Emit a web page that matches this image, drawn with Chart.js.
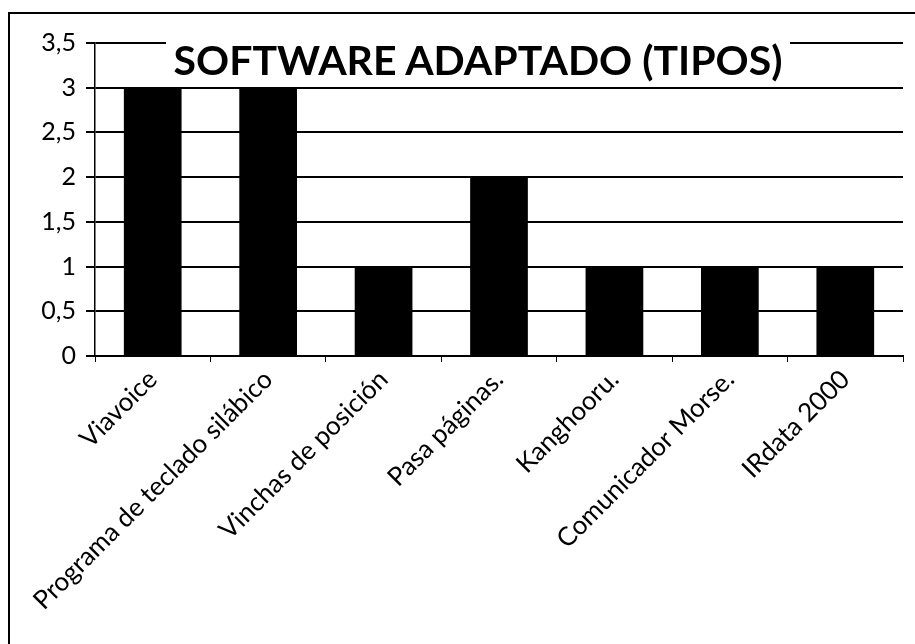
<!DOCTYPE html>
<html>
<head>
<meta charset="utf-8">
<script src="https://cdn.jsdelivr.net/npm/chart.js"></script>
<style>
  html, body { margin: 0; padding: 0; background: #fff; }
  #wrap { position: relative; width: 915px; height: 644px; overflow: hidden; }
  #frame { position: absolute; left: 8px; top: 12px; width: 915px; height: 640px;
           border-top: 2px solid #000; border-left: 2px solid #000; pointer-events: none; }
  #title { position: absolute; left: 166px; top: 37px; width: 624px; height: 46px;
           background: #fff; text-align: center; font-family: Lato, sans-serif;
           font-weight: bold; font-size: 41px; line-height: 46px; color: #000; white-space: nowrap; }
</style>
</head>
<body>
<div id="wrap">
  <canvas id="chart" width="915" height="644"></canvas>
  <div id="frame"></div>
  <div id="title">SOFTWARE ADAPTADO (TIPOS)</div>
</div>
<script>
let categories = ["Viavoice", "Programa de teclado silábico", "Vinchas de posición", "Pasa páginas.",
    "Kanghooru.", "Comunicador Morse.", "IRdata 2000"]
let counts = [3, 3, 1, 2, 1, 1, 1]
let yTicks = [0, 0.5, 1, 1.5, 2, 2.5, 3, 3.5]

const ctx = document.getElementById("chart").getContext("2d")
new Chart(ctx, {
    type: "bar",
    data: {
        labels: categories,
        datasets: [{
            data: counts,
            backgroundColor: "#000",
            borderWidth: 0,
            barPercentage: 0.5,
            categoryPercentage: 1
        }]
    },
    options: {
        responsive: false,
        animation: false,
        layout: {padding: {left: 0, top: 43, right: 12, bottom: 0}},
        plugins: {legend: {display: false}, tooltip: {enabled: false}, title: {display: false}},
        scales: {
            x: {
                afterFit: axis => { axis.height = 288 },
                grid: {offset: true, drawOnChartArea: false, drawTicks: true, tickLength: 6, color: "#000", lineWidth: 1},
                border: {display: true, color: "#000", width: 2},
                ticks: {
                    color: "#000", maxRotation: 45, minRotation: 45, autoSkip: false, padding: 2,
                    font: {family: "Lato", size: 26}
                }
            },
            y: {
                min: 0,
                max: 3.5,
                afterFit: axis => { axis.width = 95 },
                afterBuildTicks: axis => { axis.ticks = yTicks.map(v => ({value: v})) },
                grid: {color: "#000", lineWidth: 2, tickLength: 9},
                border: {display: true, color: "#000", width: 1.5},
                ticks: {
                    color: "#000", padding: 10,
                    font: {family: "Lato", size: 25},
                    callback: v => String(v).replace(".", ",")
                }
            }
        }
    }
})
</script>
</body>
</html>
